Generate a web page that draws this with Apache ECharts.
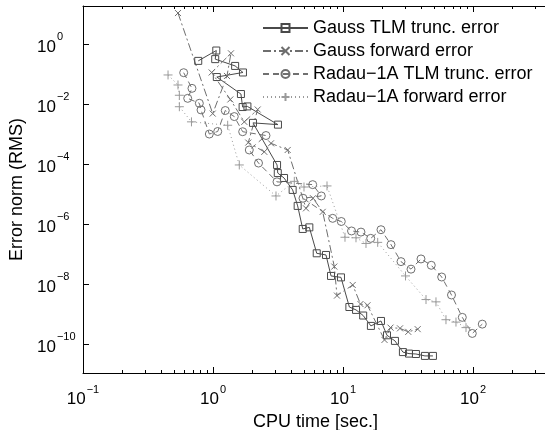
<!DOCTYPE html>
<html><head><meta charset="utf-8">
<script src="https://cdn.jsdelivr.net/npm/echarts@6/dist/echarts.min.js"></script>
<style>html,body{margin:0;padding:0;background:#fff}#c{width:545px;height:430px}</style>
</head><body><div id="c"></div>
<script>
// ---- data (CPU time [sec.], error norm) ----
const gaussTlmX = [0.77,1.06,1.04,1.48,1.70,1.07,1.64,1.69,1.84,3.16,2.03,3.11,3.15,3.52,4.10,4.48,4.90,5.51,6.28,7.40,8.09,9.65,11.2,12.6,14.3,16.4,19.6,21.8,25.1,28.9,32.2,36.4,42.7,49.2];
const gaussTlmY = [0.28,0.62,0.32,0.19,0.115,0.081,0.022,0.0081,0.0085,0.0021,0.0024,9.5e-5,5.1e-5,3.5e-5,1.4e-5,4.1e-6,7.0e-7,7.9e-7,1.08e-7,9.5e-8,1.9e-8,1.7e-8,1.75e-9,1.4e-9,9.1e-10,4.1e-10,6.0e-10,2.0e-10,1.3e-10,5.5e-11,4.9e-11,4.75e-11,4.1e-11,4.1e-11];

const gaussFwdX = [0.538,0.995,1.281,1.375,0.977,1.359,1.741,2.207,1.868,2.481,2.794,3.755,5.194,5.878,6.982,8.574,8.992,11.88,13.63,15.43,20.86,23.20,27.45,31.78,37.55];
const gaussFwdY = [11.0,4.9e-3,8.8e-2,0.50,0.115,1.45e-2,2.6e-3,6.7e-3,5.3e-4,2.6e-4,5.0e-4,3.0e-4,3.4e-6,7.4e-6,2.6e-6,3.9e-8,4.2e-9,9.5e-9,2.2e-9,2.0e-9,1.4e-10,3.6e-10,3.4e-10,2.6e-10,3.2e-10];

const radauTlmX = [0.595,0.689,0.639,0.785,0.809,0.937,1.087,1.243,1.458,1.692,2.557,1.902,2.239,3.107,5.847,6.810,4.924,8.332,9.703,11.63,13.75,16.34,19.60,23.40,27.94,33.36,39.81,47.77,57.43,68.34,82.76,98.77,117.9];
const radauTlmY = [0.113,3.4e-2,1.58e-2,1.08e-2,6.5e-3,1.02e-3,1.24e-3,6.2e-3,3.9e-3,1.22e-3,9.1e-4,3.0e-4,1.1e-4,2.6e-5,2.1e-5,8.8e-6,7.4e-6,1.58e-6,1.24e-6,6.0e-7,5.5e-7,3.4e-7,6.6e-7,2.1e-7,5.7e-8,3.2e-8,7.0e-8,4.3e-8,1.75e-8,4.4e-9,7.9e-10,2.3e-10,4.7e-10];

const radauFwdX = [0.451,0.538,0.551,0.551,0.683,1.297,1.593,3.052,4.222,5.012,7.534,10.36,12.59,15.03,18.49,30.26,43.51,51.92,61.98,73.99,88.36];
const radauFwdY = [9.5e-2,4.4e-2,2.0e-2,8.3e-3,2.6e-3,2.0e-3,9.5e-5,8.8e-6,2.7e-5,1.75e-5,1.9e-5,3.7e-7,3.55e-7,2.3e-7,2.5e-7,1.9e-8,3.1e-9,2.6e-9,6.6e-10,5.5e-10,3.6e-10];

const seriesNames = ['Gauss TLM trunc. error','Gauss forward error','Radau\u22121A TLM trunc. error','Radau\u22121A forward error'];
const xMajorTicks = [0.1,1,10,100];
const xMinorTicks = [0.2,0.3,0.4,0.5,0.6,0.7,0.8,0.9,2,3,4,5,6,7,8,9,20,30,40,50,60,70,80,90,200,300];
const yMajorTicks = [1e-10,1e-8,1e-6,1e-4,1e-2,1];
const xRange = [0.1, 377.6];
const yRange = [1.105e-11, 18.9];

const FONT = '"Liberation Sans", Arial, Helvetica, sans-serif';
const zip = (xs, ys) => xs.map((x, i) => [x, ys[i]]);
const powLabel = v => {
  const e = Math.round(Math.log10(v));
  return '{b|10}{s|' + String(e).replace('-', '\u2212') + '}';
};
const richLab = {
  b: {fontSize: 17, fontFamily: FONT, color: '#000', padding: [6, 0, 0, 0]},
  s: {fontSize: 11, fontFamily: FONT, color: '#000', padding: [0, 0, 14, 1]}
};
const CROSS = 'path://M0,0L10,10M10,0L0,10';
const PLUS = 'path://M5,0L5,10M0,5L10,5';

function xAx(pos, ticks, len, showLine, showLabel) {
  return {
    type: 'log', position: pos, min: xRange[0], max: xRange[1],
    axisLine: {show: showLine, onZero: false, lineStyle: {color: '#000', width: 1}},
    axisTick: {show: true, inside: true, length: len, customValues: ticks, lineStyle: {color: '#000'}},
    axisLabel: showLabel ? {show: true, customValues: xMajorTicks, formatter: powLabel, rich: richLab, margin: 11} : {show: false},
    splitLine: {show: false}, minorTick: {show: false}
  };
}

const chart = echarts.init(document.getElementById('c'), null, {renderer: 'canvas'});
chart.setOption({
  animation: false,
  backgroundColor: '#fff',
  textStyle: {fontFamily: FONT},
  grid: {left: 83, top: 6, right: -3, bottom: 57, containLabel: false, outerBoundsMode: 'none'},
  legend: {
    orient: 'vertical', left: 262, top: 19, padding: 0, itemWidth: 45, itemHeight: 10, itemGap: 5,
    textStyle: {fontSize: 18, fontFamily: FONT, color: '#000', lineHeight: 18},
    data: seriesNames
  },
  xAxis: [
    Object.assign(xAx('bottom', xMajorTicks, 6, true, true), {
      name: 'CPU time [sec.]', nameLocation: 'middle', nameGap: 37,
      nameTextStyle: {fontSize: 18, fontFamily: FONT, color: '#000'}
    }),
    xAx('bottom', xMinorTicks, 3, false, false),
    xAx('top', xMajorTicks, 6, true, false),
    xAx('top', xMinorTicks, 3, false, false)
  ],
  yAxis: [{
    type: 'log', position: 'left', min: yRange[0], max: yRange[1],
    name: 'Error norm (RMS)', nameLocation: 'middle', nameGap: 54,
    nameTextStyle: {fontSize: 18, fontFamily: FONT, color: '#000'},
    axisLine: {show: true, onZero: false, lineStyle: {color: '#000'}},
    axisTick: {show: true, inside: true, length: 6, customValues: yMajorTicks, lineStyle: {color: '#000'}},
    axisLabel: {show: true, customValues: yMajorTicks, formatter: powLabel, rich: richLab, align: 'left', margin: 46},
    splitLine: {show: false}, minorTick: {show: false}
  }],
  series: [
    {name: seriesNames[0], type: 'line', data: zip(gaussTlmX, gaussTlmY), symbol: 'rect', symbolSize: 7,
     lineStyle: {color: '#4a4a4a', width: 1, type: 'solid'},
     itemStyle: {color: 'rgba(255,255,255,0)', borderColor: '#4a4a4a', borderWidth: 1}},
    {name: seriesNames[1], type: 'line', data: zip(gaussFwdX, gaussFwdY), symbol: CROSS, symbolSize: 6,
     lineStyle: {color: '#6e6e6e', width: 1, type: [8, 3, 2, 3]},
     itemStyle: {color: 'rgba(255,255,255,0)', borderColor: '#6e6e6e', borderWidth: 1}},
    {name: seriesNames[2], type: 'line', data: zip(radauTlmX, radauTlmY), symbol: 'circle', symbolSize: 8,
     lineStyle: {color: '#707070', width: 1, type: [6, 4]},
     itemStyle: {color: 'rgba(255,255,255,0)', borderColor: '#707070', borderWidth: 1}},
    {name: seriesNames[3], type: 'line', data: zip(radauFwdX, radauFwdY), symbol: PLUS, symbolSize: 9,
     lineStyle: {color: '#9a9a9a', width: 1, type: [1, 3]},
     itemStyle: {color: 'rgba(255,255,255,0)', borderColor: '#9a9a9a', borderWidth: 1}}
  ]
});
</script></body></html>
